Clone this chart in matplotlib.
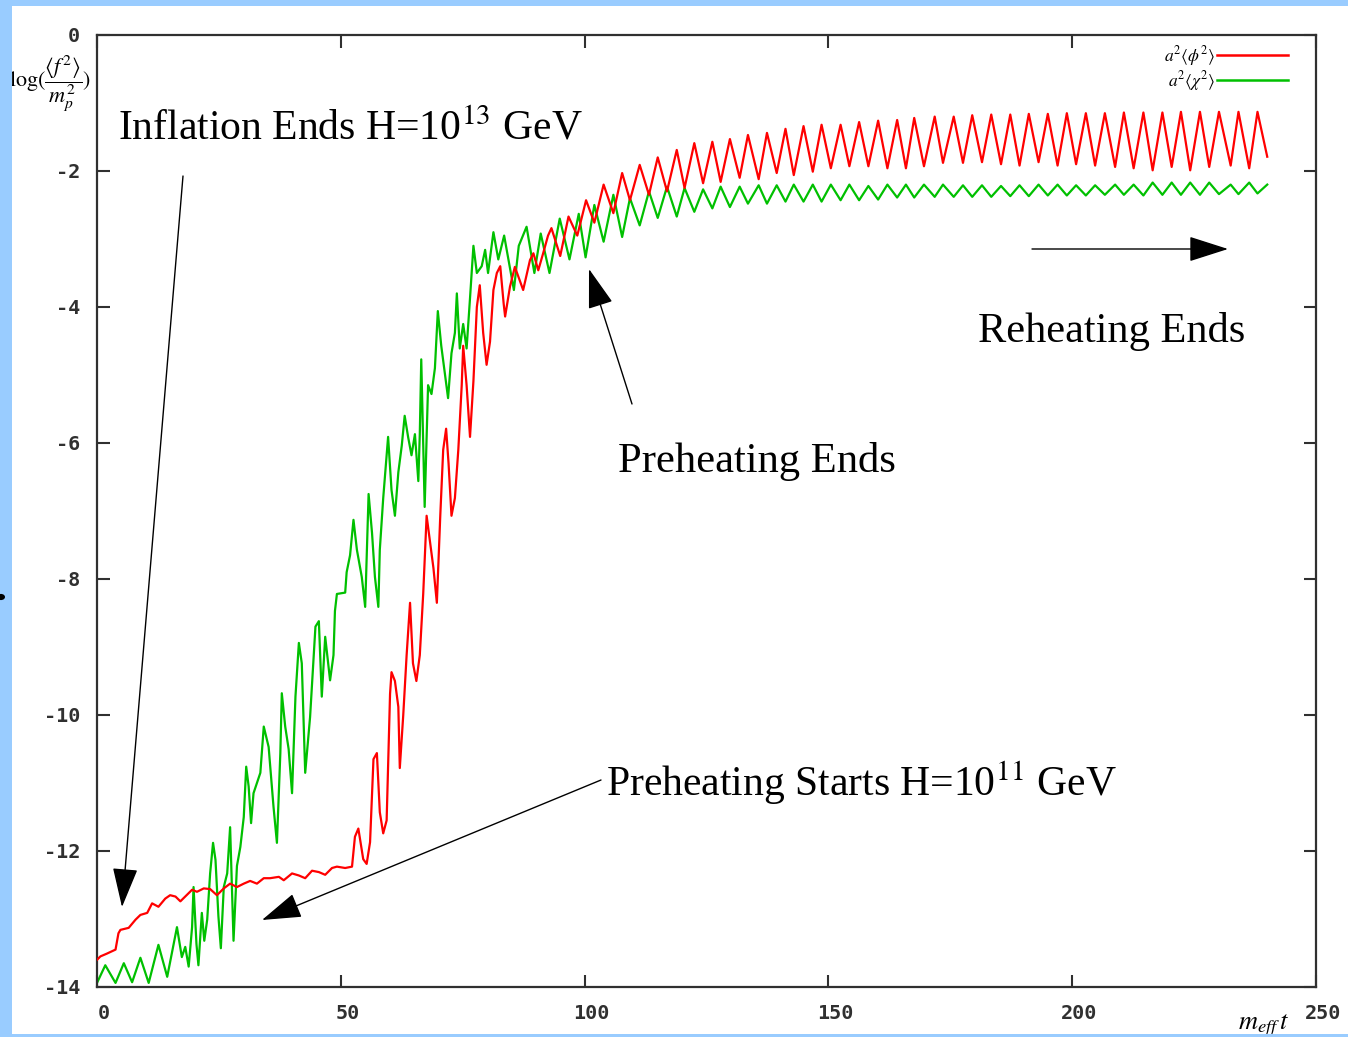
import matplotlib
matplotlib.use("Agg")
import matplotlib.pyplot as plt
from matplotlib.patches import Rectangle, Circle
import matplotlib.transforms as mtransforms

# ---------------- data ----------------
red_x = [0, 0.7, 2.0, 3.8, 4.4, 4.8, 6.5, 7.9, 8.9, 10.3, 11.3, 12.6, 14.0, 15.0, 16.1, 17.1,
         18.1, 19.5, 20.5, 21.9, 23.2, 24.6, 26.0, 27.3, 28.7, 30.1, 31.4, 32.8, 34.2, 35.5,
         37.3, 38.3, 40.0, 41.4, 42.7, 44.1, 45.5, 46.8, 48.2, 49.2, 50.9, 52.3, 52.9, 53.6,
         54.6, 55.3, 56.0, 56.7, 57.4, 58.0, 58.7, 59.4, 60.1, 60.4, 61.1, 61.8, 62.1, 62.8,
         63.5, 64.2, 64.8, 65.5, 66.2, 66.9, 67.6, 68.3, 69.0, 69.7, 70.4, 71.0, 71.6, 72.1,
         72.7, 73.4, 74.1, 74.8, 75.1, 75.8, 76.5, 77.2, 77.9, 78.5, 79.2, 79.9, 80.6, 81.3,
         82.0, 82.7, 83.4, 83.7, 84.7, 85.7, 87.4, 88.8, 89.5, 90.5, 91.5, 92.5, 93.2, 95.0,
         96.7, 98.5, 100.3,
         102.0, 103.9, 105.9, 107.7, 109.3, 111.3, 113.2, 115.0, 116.9, 118.9, 120.5, 122.5,
         124.3, 126.2, 127.9, 129.8, 131.8, 133.5, 135.7, 137.4, 139.4, 141.2, 142.9, 144.9,
         146.8, 148.6, 150.5, 152.5, 154.3, 156.3, 158.2, 160.2, 162.1, 164.1, 165.9, 167.6,
         169.6, 171.8, 173.5, 175.7, 177.6, 179.5, 181.5, 183.4, 185.4, 187.3, 189.2, 191.1,
         193.1, 195.0, 197.0, 198.9, 200.8, 202.8, 204.7, 206.7, 208.8, 210.6, 212.6, 214.6,
         216.5, 218.5, 220.4, 222.3, 224.2, 226.2, 228.1, 230.1, 232.5, 234.1, 236.3, 238.0,
         240.0]
red_y = [-13.6, -13.55, -13.51, -13.45, -13.21, -13.16, -13.13, -13.01, -12.94, -12.91, -12.77,
         -12.82, -12.7, -12.65, -12.67, -12.74, -12.67, -12.57, -12.6, -12.55, -12.56, -12.65,
         -12.55, -12.48, -12.53, -12.48, -12.44, -12.48, -12.4, -12.4, -12.38, -12.43, -12.33,
         -12.36, -12.4, -12.29, -12.31, -12.35, -12.25, -12.23, -12.25, -12.23, -11.79, -11.67,
         -12.12, -12.19, -11.87, -10.65, -10.56, -11.43, -11.74, -11.55, -9.69, -9.37, -9.5,
         -9.88, -10.78, -10.01, -9.12, -8.35, -9.24, -9.5, -9.12, -8.22, -7.07, -7.46, -7.84,
         -8.35, -7.07, -6.1, -5.79, -6.3, -7.07, -6.81, -6.1, -5.15, -4.57, -5.15, -5.91, -5.09,
         -4.0, -3.68, -4.38, -4.85, -4.51, -3.75, -3.5, -3.4, -3.95, -4.14, -3.7, -3.41, -3.75,
         -3.31, -3.21, -3.46, -3.21, -2.95, -2.84, -3.25, -2.67, -2.95, -2.43,
         -2.76, -2.2, -2.62, -2.03, -2.43, -1.91, -2.35, -1.8, -2.3, -1.69, -2.25, -1.59,
         -2.18, -1.57, -2.16, -1.53, -2.1, -1.47, -2.12, -1.44, -2.03, -1.38, -2.06, -1.34,
         -2.01, -1.32, -1.96, -1.32, -1.93, -1.28, -1.93, -1.26, -1.96, -1.25, -1.96, -1.22,
         -1.93, -1.2, -1.88, -1.2, -1.88, -1.18, -1.87, -1.17, -1.9, -1.17, -1.92, -1.16,
         -1.87, -1.16, -1.92, -1.15, -1.9, -1.15, -1.92, -1.15, -1.94, -1.14, -1.96, -1.14,
         -1.99, -1.14, -1.94, -1.13, -1.99, -1.13, -1.94, -1.13, -1.92, -1.13, -1.96, -1.13,
         -1.79]

green_x = [0, 1.7, 3.8, 5.5, 7.2, 8.9, 10.6, 12.6, 14.4, 16.4, 17.4, 18.1, 18.8, 19.5, 19.8,
           20.4, 20.8, 21.5, 22.0, 22.6, 23.2, 23.8, 24.3, 24.9, 25.4, 26.0, 26.7, 27.3, 28.0,
           28.7, 29.4, 30.1, 30.6, 31.1, 31.6, 32.1, 33.5, 34.2, 35.2, 36.2, 36.9, 37.6, 37.9,
           38.6, 39.3, 40.0, 40.7, 41.4, 42.0, 42.7, 43.7, 44.8, 45.5, 46.1, 46.8, 47.8, 48.5,
           48.8, 49.2, 50.9, 51.2, 51.9, 52.6, 53.3, 54.3, 55.0, 55.7, 56.4, 57.0, 57.7, 58.0,
           58.7, 59.7, 60.4, 61.1, 61.8, 62.5, 63.1, 63.8, 64.5, 65.2, 65.9, 66.2, 66.5, 67.2,
           67.9, 68.6, 69.3, 69.9, 70.6, 71.3, 72.0, 72.7, 73.4, 73.8, 74.4, 75.1, 75.8, 76.5,
           77.2, 77.9, 78.9, 79.6, 80.2, 81.3, 82.3, 83.5, 84.5, 85.5, 86.5, 88.1, 89.7, 91.0,
           92.8, 94.9, 96.9, 98.8, 100.2,
           102.0, 103.9, 105.9, 107.7, 109.3, 111.3, 113.2, 115.0, 116.9, 118.9, 120.5, 122.5,
           124.3, 126.2, 127.9, 129.8, 131.8, 133.5, 135.7, 137.4, 139.4, 141.2, 142.9, 144.9,
           146.8, 148.6, 150.5, 152.5, 154.3, 156.3, 158.2, 160.2, 162.1, 164.1, 165.9, 167.6,
           169.6, 171.8, 173.5, 175.7, 177.6, 179.5, 181.5, 183.4, 185.4, 187.3, 189.2, 191.1,
           193.1, 195.0, 197.0, 198.9, 200.8, 202.8, 204.7, 206.7, 208.8, 210.6, 212.6, 214.6,
           216.5, 218.5, 220.4, 222.3, 224.2, 226.2, 228.1, 230.1, 232.5, 234.1, 236.3, 238.0,
           240.0]
green_y = [-13.94, -13.68, -13.94, -13.65, -13.93, -13.57, -13.94, -13.38, -13.85, -13.12, -13.56,
           -13.41, -13.7, -13.12, -12.53, -13.37, -13.68, -12.91, -13.32, -13.01, -12.33, -11.88,
           -12.13, -12.96, -13.43, -12.53, -12.33, -11.65, -13.32, -12.22, -11.94, -11.5, -10.76,
           -11.05, -11.59, -11.15, -10.85, -10.17, -10.47, -11.35, -11.88, -10.56, -9.68, -10.17,
           -10.5, -11.15, -9.73, -8.94, -9.24, -10.85, -10.03, -8.7, -8.62, -9.73, -8.85, -9.49,
           -9.12, -8.47, -8.22, -8.2, -7.9, -7.65, -7.13, -7.57, -7.97, -8.41, -6.75, -7.32,
           -7.97, -8.41, -7.57, -6.81, -5.91, -6.69, -7.07, -6.43, -6.04, -5.6, -5.91, -6.18,
           -5.87, -6.56, -5.87, -4.77, -6.94, -5.15, -5.28, -4.9, -4.06, -4.57, -4.96, -5.34,
           -4.68, -4.38, -3.8, -4.61, -4.25, -4.61, -3.87, -3.1, -3.5, -3.4, -3.16, -3.5, -2.9,
           -3.3, -2.95, -3.35, -3.75, -3.1, -2.82, -3.5, -2.92, -3.5, -2.7, -3.3, -2.63, -3.27,
           -2.5, -3.04, -2.35, -2.97, -2.4, -2.8, -2.3, -2.69, -2.23, -2.67, -2.25, -2.6,
           -2.27, -2.55, -2.23, -2.53, -2.23, -2.48, -2.21, -2.48, -2.21, -2.45, -2.2, -2.45,
           -2.2, -2.45, -2.2, -2.43, -2.2, -2.43, -2.22, -2.42, -2.2, -2.39, -2.2, -2.39,
           -2.2, -2.38, -2.2, -2.38, -2.21, -2.38, -2.21, -2.38, -2.22, -2.37, -2.21, -2.37,
           -2.2, -2.36, -2.2, -2.36, -2.21, -2.36, -2.21, -2.35, -2.2, -2.35, -2.2, -2.36,
           -2.17, -2.35, -2.17, -2.35, -2.17, -2.35, -2.17, -2.34, -2.2, -2.34, -2.17, -2.33,
           -2.2]

x_ticks = [0, 50, 100, 150, 200, 250]
y_ticks = [0, -2, -4, -6, -8, -10, -12, -14]
legend_labels = [r"$a^2\langle\phi^2\rangle$", r"$a^2\langle\chi^2\rangle$"]

# ---------------- figure ----------------
W, H = 1348, 1037
plt.rcParams['font.family'] = ['Liberation Serif', 'DejaVu Serif']
plt.rcParams['mathtext.fontset'] = 'stix'

fig = plt.figure(figsize=(W / 100, H / 100), dpi=100, facecolor='white')
ax = fig.add_axes([97 / W, 50 / H, (1316 - 97) / W, (987 - 35) / H])

RED = '#ff0000'
GREEN = '#00c000'
ax.plot(red_x, red_y, color=RED, lw=1.6, zorder=3)
ax.plot(green_x, green_y, color=GREEN, lw=1.6, zorder=2)

ax.set_xlim(0, 250)
ax.set_ylim(-14, 0)
ax.set_xticks(x_ticks)
ax.set_yticks(y_ticks)
ax.set_xticklabels([str(v) for v in x_ticks])
ax.set_yticklabels([str(v) for v in y_ticks])
for sp in ax.spines.values():
    sp.set_linewidth(1.6)
    sp.set_color('#303030')
ax.tick_params(direction='in', length=9, width=1.5, color='#303030',
               top=True, right=True, pad=12)
for lab in ax.get_xticklabels() + ax.get_yticklabels():
    lab.set_fontfamily('DejaVu Sans Mono')
    lab.set_fontsize(14.5)
    lab.set_fontweight('bold')
    lab.set_color('#303030')
off = mtransforms.ScaledTranslation(0.07, 0, fig.dpi_scale_trans)
for lab in ax.get_xticklabels():
    lab.set_transform(lab.get_transform() + off)


def fp(px, py):
    return (px / W, 1 - py / H)


# legend
leg_y = [56, 81]
leg_c = [RED, GREEN]
for lab, yy, c in zip(legend_labels, leg_y, leg_c):
    fig.text(*fp(1215, yy), lab, ha='right', va='center', fontsize=12.5)
    fig.add_artist(plt.Line2D([1217 / W, 1288 / W], [1 - (yy - 1) / H, 1 - (yy - 1) / H],
                              color=c, lw=1.8, transform=fig.transFigure))

# axis labels
fig.text(*fp(50, 84), r"$\mathrm{log}(\dfrac{\langle f^2\rangle}{m_p^2})$",
         ha='center', va='center', fontsize=16)
fig.text(*fp(1264, 1026), r"$m_{eff}\,t$", ha='center', va='center', fontsize=19, zorder=5)

# annotations
fig.text(*fp(118, 139), r"Inflation Ends H=10$^{13}$ GeV", fontsize=30, ha='left', va='baseline')
fig.text(*fp(606, 796), r"Preheating Starts H=10$^{11}$ GeV", fontsize=30, ha='left', va='baseline')
fig.text(*fp(618, 472), "Preheating Ends", fontsize=30.7, ha='left', va='baseline')
fig.text(*fp(978, 342), "Reheating Ends", fontsize=30.5, ha='left', va='baseline')

arrows = [((183, 176), (122, 907)),
          ((601, 780), (262, 920)),
          ((632, 404), (589, 269)),
          ((1032, 249), (1228, 249))]
for tail, tip in arrows:
    ax.annotate('', xy=fp(*tip), xytext=fp(*tail), xycoords='figure fraction',
                textcoords='figure fraction',
                arrowprops=dict(arrowstyle='-|>,head_length=2.5,head_width=0.8',
                                mutation_scale=10, color='black', lw=1,
                                shrinkA=0, shrinkB=0))

# light-blue frame
BLUE = '#99ccff'
for rect in [(0, 0, 12 / W, 1), (0, 1 - 6 / H, 1, 6 / H), (0, 0, 1, 3 / H)]:
    fig.add_artist(Rectangle(rect[:2], rect[2], rect[3], transform=fig.transFigure,
                             facecolor=BLUE, edgecolor='none', zorder=10))
fig.add_artist(Circle((1 / W, 1 - 597 / H), 4 / W, transform=fig.transFigure,
                      facecolor='black', edgecolor='none', zorder=11))

fig.savefig('out.png', dpi=100, facecolor='white')
